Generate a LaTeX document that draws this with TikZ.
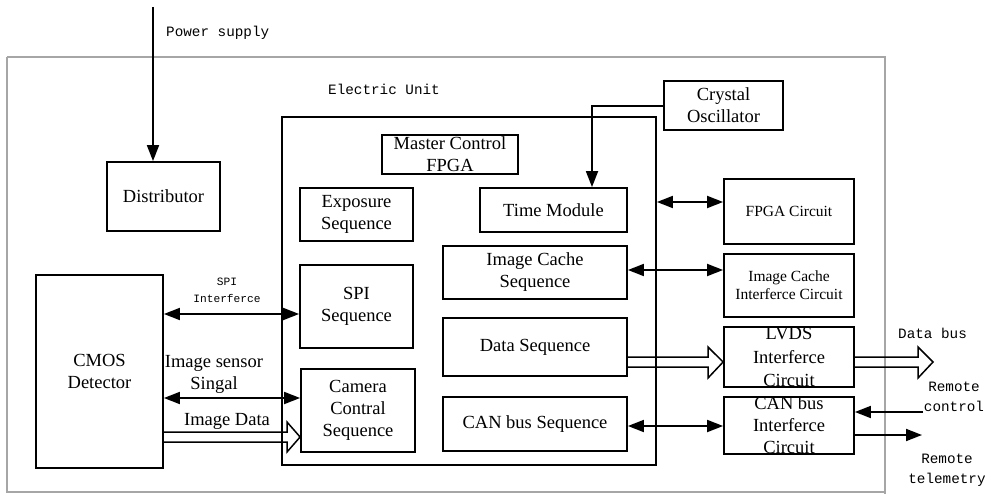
\documentclass[tikz,border=0pt]{standalone}
\usepackage{fontspec}
\setmainfont{Liberation Serif}
\setmonofont{Liberation Mono}
\usetikzlibrary{arrows.meta,calc}

\tikzset{
  blk/.style={draw, line width=1.8pt, inner sep=0pt, align=center,
    font=\fontsize{18.5}{22}\selectfont},
  blksmall/.style={blk, font=\fontsize{15.5}{18}\selectfont},
  lbl/.style={inner sep=0pt, align=center, font=\fontsize{18.5}{22}\selectfont},
  mono/.style={inner sep=0pt, align=center, font=\ttfamily\fontsize{14.3}{20}\selectfont},
  monosmall/.style={inner sep=0pt, align=center, font=\ttfamily\fontsize{11.2}{17}\selectfont},
  >={Triangle[length=16pt,width=12pt]},
  arr/.style={line width=1.8pt, ->},
  darr/.style={line width=1.8pt, <->},
  hollow/.style={line width=1.5pt, line join=miter},
  frame/.style={draw=black!35, line width=1.2pt}
}

\begin{document}
\begin{tikzpicture}[x=1pt,y=-1pt]
\useasboundingbox (0,0) rectangle (987,494);

% electric unit enclosure
\draw[frame] (7,57) -- (885,57) -- (885,494);
\draw[frame] (7,57) -- (7,492) -- (885,492);
\node[mono, anchor=west] (eu) at (328,89) {Electric Unit};

% main blocks
\node[blk, minimum width=113pt, minimum height=69pt] (dist) at (163.5,196.5) {Distributor};
\node[blk, minimum width=127pt, minimum height=193pt] (cmos) at (99.5,371.5) {CMOS\\Detector};
\node[blk, minimum width=374pt, minimum height=348pt] (fpga) at (469,291) {};
\node[blk, minimum width=136pt, minimum height=39pt] (mcf) at (450,154.5) {Master Control\\FPGA};
\node[blk, minimum width=113pt, minimum height=53pt] (exp) at (356.5,214.5) {Exposure\\Sequence};
\node[blk, minimum width=113pt, minimum height=83pt] (spi) at (356.5,306.5) {SPI\\Sequence};
\node[blk, minimum width=114pt, minimum height=83pt] (cam) at (358,410.5) {Camera\\Contral\\Sequence};
\node[blk, minimum width=147pt, minimum height=44pt] (time) at (553.5,210) {Time Module};
\node[blk, minimum width=184pt, minimum height=53pt] (ics) at (535,272.5) {Image Cache\\Sequence};
\node[blk, minimum width=184pt, minimum height=58pt] (ds) at (535,347) {Data Sequence};
\node[blk, minimum width=184pt, minimum height=54pt] (cans) at (535,424) {CAN bus Sequence};
\node[blk, minimum width=119pt, minimum height=49pt] (xtal) at (723.5,105.5) {Crystal\\Oscillator};
\node[blksmall, minimum width=130pt, minimum height=65pt] (fc) at (789,211.5) {FPGA Circuit};
\node[blksmall, minimum width=130pt, minimum height=63pt] (icic) at (789,285.5) {Image Cache\\Interferce Circuit};
\node[blk, minimum width=130pt, minimum height=58pt, font=\fontsize{18.5}{23.5}\selectfont] (lvds) at (789,357) {LVDS\\Interferce\\Circuit};
\node[blk, minimum width=130pt, minimum height=57pt] (canic) at (789,425.5) {CAN bus\\Interferce\\Circuit};

% power supply
\coordinate (ps) at (153,7);
\draw[arr] (ps) -- (ps |- dist.north);
\node[mono, anchor=west] (pslbl) at (166,33) {Power supply};

% detector links
\coordinate (ySPI) at (0,314);
\coordinate (ySig) at (0,398);
\draw[darr] (cmos.east |- ySPI) -- (spi.west |- ySPI);
\node[monosmall] (spilbl) at (227,290.5) {SPI\\Interferce};
\draw[darr] (cmos.east |- ySig) -- (cam.west |- ySig);
\node[lbl] (siglbl) at (214,374) {Image sensor\\Singal};
\node[lbl] (imglbl) at (227,421) {Image Data};
\draw[hollow] (cmos.east |- 0,432) -- (287,432) -- (287,422) -- (cam.west |- 0,437)
  -- (287,452) -- (287,442) -- (cmos.east |- 0,442);

% crystal to time module
\coordinate (xbend) at (592,106);
\draw[arr] (xtal.west |- xbend) -- (xbend) -- (xbend |- time.north);

% FPGA to peripheral circuits
\coordinate (yFC) at (0,202);
\coordinate (yIC) at (0,270);
\coordinate (yCAN) at (0,426);
\draw[darr] (fpga.east |- yFC) -- (fc.west |- yFC);
\draw[darr] (ics.east |- yIC) -- (icic.west |- yIC);
\draw[darr] (cans.east |- yCAN) -- (canic.west |- yCAN);
\draw[hollow] (ds.east |- 0,357) -- (708,357) -- (708,347) -- (lvds.west |- 0,362)
  -- (708,378) -- (708,367) -- (ds.east |- 0,367);

% external interfaces
\coordinate (dbtip) at (933,362);
\draw[hollow] (lvds.east |- 0,357) -- (918,357) -- (918,347) -- (dbtip)
  -- (918,378) -- (918,367) -- (lvds.east |- 0,367);
\node[mono, anchor=west] (dblbl) at (898,333) {Data bus};
\coordinate (rc) at (923,412);
\coordinate (rt) at (922,435);
\draw[arr] (rc) -- (canic.east |- rc);
\draw[arr] (canic.east |- rt) -- (rt);
\node[mono] (rclbl) at (954,397) {Remote\\control};
\node[mono] (rtlbl) at (947,470.5) {Remote\\telemetry};
\end{tikzpicture}
\end{document}
